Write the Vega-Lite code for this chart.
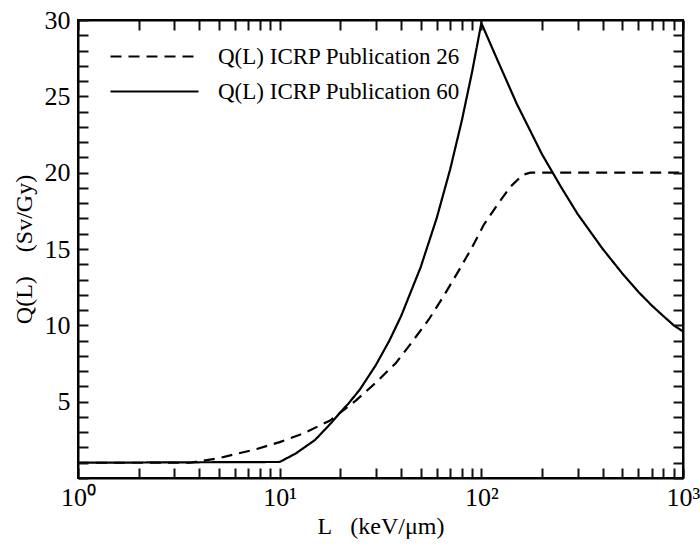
{
  "$schema": "https://vega.github.io/schema/vega-lite/v6.json",
  "width": 605,
  "height": 458,
  "autosize": {"type": "none"},
  "padding": {"left": 78, "top": 20, "right": 17, "bottom": 77},
  "background": "white",
  "config": {
    "font": "Liberation Serif",
    "view": {"stroke": "black", "strokeWidth": 2},
    "axis": {
      "domainColor": "black",
      "domainWidth": 2,
      "labelColor": "black",
      "titleColor": "black",
      "labelFont": "Liberation Serif",
      "titleFont": "Liberation Serif",
      "labelFontSize": 26,
      "titleFontSize": 24,
      "titleFontWeight": "normal",
      "grid": false
    }
  },
  "data": {
    "values": [
      {"s": "Q(L) ICRP Publication 26", "L": 1, "Q": 1.0},
      {"s": "Q(L) ICRP Publication 26", "L": 3.6, "Q": 1.0},
      {"s": "Q(L) ICRP Publication 26", "L": 5, "Q": 1.3},
      {"s": "Q(L) ICRP Publication 26", "L": 7.7, "Q": 1.9},
      {"s": "Q(L) ICRP Publication 26", "L": 10, "Q": 2.35},
      {"s": "Q(L) ICRP Publication 26", "L": 13, "Q": 2.9},
      {"s": "Q(L) ICRP Publication 26", "L": 17.7, "Q": 3.75},
      {"s": "Q(L) ICRP Publication 26", "L": 24, "Q": 5.1},
      {"s": "Q(L) ICRP Publication 26", "L": 30, "Q": 6.25},
      {"s": "Q(L) ICRP Publication 26", "L": 37.8, "Q": 7.55},
      {"s": "Q(L) ICRP Publication 26", "L": 45, "Q": 8.85},
      {"s": "Q(L) ICRP Publication 26", "L": 55, "Q": 10.4},
      {"s": "Q(L) ICRP Publication 26", "L": 65.6, "Q": 12.0},
      {"s": "Q(L) ICRP Publication 26", "L": 77.8, "Q": 13.65},
      {"s": "Q(L) ICRP Publication 26", "L": 89, "Q": 15.0},
      {"s": "Q(L) ICRP Publication 26", "L": 103, "Q": 16.6},
      {"s": "Q(L) ICRP Publication 26", "L": 123, "Q": 18.1},
      {"s": "Q(L) ICRP Publication 26", "L": 140, "Q": 19.1},
      {"s": "Q(L) ICRP Publication 26", "L": 160, "Q": 19.85},
      {"s": "Q(L) ICRP Publication 26", "L": 175, "Q": 20.0},
      {"s": "Q(L) ICRP Publication 26", "L": 1000, "Q": 20.0},
      {"s": "Q(L) ICRP Publication 60", "L": 1, "Q": 1.0},
      {"s": "Q(L) ICRP Publication 60", "L": 10, "Q": 1.05},
      {"s": "Q(L) ICRP Publication 60", "L": 12, "Q": 1.6},
      {"s": "Q(L) ICRP Publication 60", "L": 15, "Q": 2.5},
      {"s": "Q(L) ICRP Publication 60", "L": 18, "Q": 3.6},
      {"s": "Q(L) ICRP Publication 60", "L": 20, "Q": 4.3},
      {"s": "Q(L) ICRP Publication 60", "L": 22, "Q": 4.9},
      {"s": "Q(L) ICRP Publication 60", "L": 25, "Q": 5.8},
      {"s": "Q(L) ICRP Publication 60", "L": 30, "Q": 7.4},
      {"s": "Q(L) ICRP Publication 60", "L": 35, "Q": 9.0},
      {"s": "Q(L) ICRP Publication 60", "L": 40, "Q": 10.6},
      {"s": "Q(L) ICRP Publication 60", "L": 50, "Q": 13.8},
      {"s": "Q(L) ICRP Publication 60", "L": 60, "Q": 17.0},
      {"s": "Q(L) ICRP Publication 60", "L": 70, "Q": 20.2},
      {"s": "Q(L) ICRP Publication 60", "L": 80, "Q": 23.4},
      {"s": "Q(L) ICRP Publication 60", "L": 90, "Q": 26.6},
      {"s": "Q(L) ICRP Publication 60", "L": 100, "Q": 29.8},
      {"s": "Q(L) ICRP Publication 60", "L": 120, "Q": 27.4},
      {"s": "Q(L) ICRP Publication 60", "L": 150, "Q": 24.5},
      {"s": "Q(L) ICRP Publication 60", "L": 200, "Q": 21.2},
      {"s": "Q(L) ICRP Publication 60", "L": 250, "Q": 19.0},
      {"s": "Q(L) ICRP Publication 60", "L": 300, "Q": 17.3},
      {"s": "Q(L) ICRP Publication 60", "L": 400, "Q": 15.0},
      {"s": "Q(L) ICRP Publication 60", "L": 500, "Q": 13.4},
      {"s": "Q(L) ICRP Publication 60", "L": 600, "Q": 12.2},
      {"s": "Q(L) ICRP Publication 60", "L": 700, "Q": 11.3},
      {"s": "Q(L) ICRP Publication 60", "L": 800, "Q": 10.6},
      {"s": "Q(L) ICRP Publication 60", "L": 900, "Q": 10.0},
      {"s": "Q(L) ICRP Publication 60", "L": 1000, "Q": 9.6}
    ]
  },
  "layer": [
    {
      "mark": {"type": "line", "color": "black", "strokeWidth": 2.2, "clip": true},
      "encoding": {
        "x": {
          "field": "L", "type": "quantitative",
          "scale": {"type": "log", "domain": [1, 1000], "nice": false},
          "axis": {
            "orient": "bottom",
            "zindex": 1,
            "title": "L\u00a0\u00a0\u00a0(keV/μm)",
            "titlePadding": 4,
            "values": [1,2,3,4,5,6,7,8,9,10,20,30,40,50,60,70,80,90,100,200,300,400,500,600,700,800,900,1000],
            "labelExpr": "datum.value == 1 ? '10⁰' : datum.value == 10 ? '10¹' : datum.value == 100 ? '10²' : datum.value == 1000 ? '10³' : ''",
            "labelFlush": false,
            "labelOverlap": false,
            "labelBound": false,
            "labelPadding": 16,
            "tickColor": "#101010",
            "tickWidth": 2,
            "tickSize": -10
          }
        },
        "y": {
          "field": "Q", "type": "quantitative",
          "scale": {"domain": [0, 30], "nice": false, "zero": true},
          "axis": {
            "orient": "left",
            "zindex": 1,
            "title": "Q(L)\u00a0\u00a0\u00a0\u00a0(Sv/Gy)",
            "titlePadding": 8,
            "values": [0,1,2,3,4,5,6,7,8,9,10,11,12,13,14,15,16,17,18,19,20,21,22,23,24,25,26,27,28,29,30],
            "labelExpr": "datum.value > 0 && datum.value % 5 == 0 ? datum.label : ''",
            "labelOverlap": false,
            "labelBound": false,
            "labelPadding": 18,
            "tickColor": "#101010",
            "tickWidth": 2,
            "tickSize": -10
          }
        },
        "strokeDash": {
          "field": "s", "type": "nominal",
          "scale": {"domain": ["Q(L) ICRP Publication 26", "Q(L) ICRP Publication 60"], "range": [[11, 7], [1, 0]]},
          "legend": {
            "title": null,
            "orient": "none",
            "legendX": 64,
            "legendY": 24,
            "padding": 0,
            "symbolType": "M-4,0H4",
            "symbolSize": 484,
            "symbolStrokeWidth": 2.2,
            "symbolStrokeColor": "black",
            "rowPadding": 10,
            "labelOffset": 51,
            "labelFont": "Liberation Serif",
            "labelFontSize": 23,
            "labelColor": "black",
            "labelLimit": 400
          }
        }
      }
    },
    {
      "mark": {"type": "point", "opacity": 0},
      "encoding": {
        "x": {
          "field": "L", "type": "quantitative",
          "axis": {
            "orient": "top",
            "zindex": 1,
            "title": null,
            "labels": false,
            "values": [1,2,3,4,5,6,7,8,9,10,20,30,40,50,60,70,80,90,100,200,300,400,500,600,700,800,900,1000],
            "tickColor": "#101010",
            "tickWidth": 2,
            "tickSize": -10
          }
        },
        "y": {
          "field": "Q", "type": "quantitative",
          "axis": {
            "orient": "right",
            "zindex": 1,
            "title": null,
            "labels": false,
            "values": [0,1,2,3,4,5,6,7,8,9,10,11,12,13,14,15,16,17,18,19,20,21,22,23,24,25,26,27,28,29,30],
            "tickColor": "#101010",
            "tickWidth": 2,
            "tickSize": -10
          }
        }
      }
    }
  ],
  "resolve": {"axis": {"x": "independent", "y": "independent"}}
}
